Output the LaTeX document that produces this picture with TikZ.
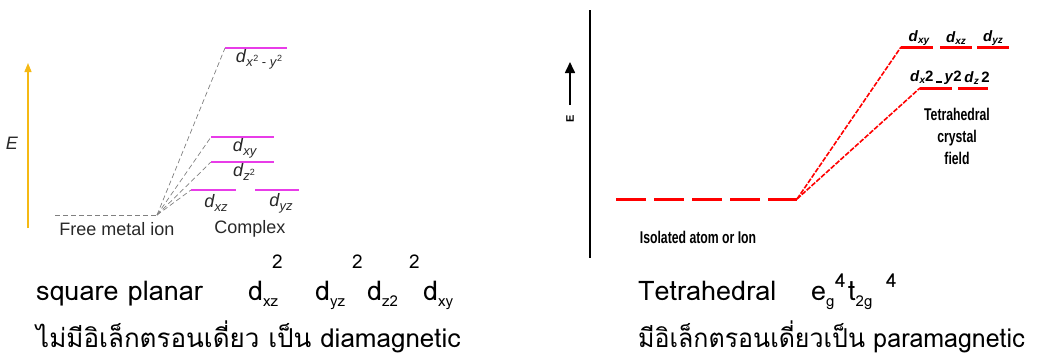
\documentclass[tikz,border=0pt]{standalone}
\usepackage{fontspec}
\setmainfont{Liberation Sans}
\newfontfamily\thaifont[Script=Thai]{Loma}
\usetikzlibrary{arrows.meta}
\definecolor{lvlmag}{RGB}{232,60,232}
\definecolor{ayellow}{RGB}{245,185,20}
\definecolor{dgray}{RGB}{40,40,40}
\newcommand\ldsub[1]{\textit{d}\raisebox{-4pt}{\fontsize{13}{13}\selectfont\textit{#1}}}
\newcommand\rdsub[1]{\textbf{\textit{d}}\raisebox{-2pt}{\fontsize{10}{10}\selectfont\bfseries\itshape #1}}
\newcommand\bsub[2]{#1\raisebox{-6pt}{\fontsize{15}{15}\selectfont #2}}
\begin{document}
\begin{tikzpicture}[x=1pt,y=-1pt,
  level/.style={lvlmag,line width=1.2pt},
  gdash/.style={gray,dash pattern=on 5pt off 3pt,line width=0.7pt},
  ltxt/.style={font=\fontsize{18}{20}\selectfont,text=dgray,inner sep=0pt},
  rlevel/.style={red,line width=3pt},
  rconn/.style={red,line width=1.6pt,dash pattern=on 5pt off 1.5pt},
  rtxt/.style={font=\fontsize{17}{19}\selectfont\bfseries,xscale=0.72,inner sep=0pt,align=center},
  rlab/.style={font=\fontsize{15}{15}\selectfont,inner sep=0pt},
  btxt/.style={font=\thaifont\fontsize{27}{30}\selectfont,anchor=base west,inner sep=0pt},
  bsupt/.style={font=\thaifont\fontsize{19}{19}\selectfont,anchor=base west,inner sep=0pt},
  thtxt/.style={font=\thaifont\fontsize{26}{30}\selectfont,anchor=base west,inner sep=0pt}]
\useasboundingbox (0,0) rectangle (1053,362);

% ---------- left diagram ----------
\coordinate (ya) at (28,228);
\coordinate (yb) at (28,63);
\draw[ayellow,line width=1.3pt,-{Triangle[length=9pt,width=7pt]}] (ya) -- (yb);
\node[ltxt,font=\fontsize{18}{20}\selectfont\itshape] (E) at (12,143) {E};

\coordinate (fa) at (55,215);
\coordinate (fb) at (157,215);
\draw[gdash] (fa) -- (fb);

\coordinate (l1a) at (225,48);  \coordinate (l1b) at (287,48);
\coordinate (l2a) at (211,137); \coordinate (l2b) at (274,137);
\coordinate (l3a) at (211,162); \coordinate (l3b) at (274,162);
\coordinate (l4a) at (191,190); \coordinate (l4b) at (236,190);
\coordinate (l5a) at (255,190); \coordinate (l5b) at (299,190);
\foreach \l in {1,...,5}{\draw[level] (l\l a) -- (l\l b);}
\foreach \l in {1,...,4}{\draw[gdash] (fb) -- (l\l a);}

\node[ltxt] (d1) at (259,59) {\textit{d}\raisebox{-4pt}{\fontsize{13}{13}\selectfont\textit{x}\raisebox{5pt}{\fontsize{9}{9}\selectfont 2} - \textit{y}\raisebox{5pt}{\fontsize{9}{9}\selectfont 2}}};
\node[ltxt] (d2) at (245,148) {\ldsub{xy}};
\node[ltxt] (d3) at (244,172) {\textit{d}\raisebox{-4pt}{\fontsize{13}{13}\selectfont\textit{z}\raisebox{5pt}{\fontsize{9}{9}\selectfont 2}}};
\node[ltxt] (d4) at (216,203) {\ldsub{xz}};
\node[ltxt] (d5) at (281,203) {\ldsub{yz}};
\node[ltxt] (free) at (117,229) {Free metal ion};
\node[ltxt] (cplx) at (250,229) {Complex};

% ---------- right diagram ----------
\coordinate (va) at (590,10);
\coordinate (vb) at (590,258);
\draw[black,line width=2pt] (va) -- (vb);
\coordinate (ea) at (570,105);
\coordinate (eb) at (570,62);
\draw[black,line width=1.6pt,-{Triangle[length=11pt,width=10pt]}] (ea) -- (eb);
\node[rotate=90,font=\fontsize{11}{11}\selectfont\bfseries,inner sep=0pt] (E2) at (570,119) {E};

\coordinate (ra) at (616,199);
\coordinate (rb) at (797,199);
\draw[red,line width=3pt,dash pattern=on 30pt off 8pt] (ra) -- (rb);

\coordinate (u1a) at (901,47); \coordinate (u1b) at (933,47);
\coordinate (u2a) at (940,47); \coordinate (u2b) at (972,47);
\coordinate (u3a) at (977,47); \coordinate (u3b) at (1009,47);
\coordinate (w1a) at (920,88); \coordinate (w1b) at (952,88);
\coordinate (w2a) at (958,88); \coordinate (w2b) at (988,88);
\foreach \c in {u1,u2,u3,w1,w2}{\draw[rlevel] (\c a) -- (\c b);}
\draw[rconn] (rb) -- (u1a);
\draw[rconn] (rb) -- (w1a);

\node[rlab] (rd1) at (919,38) {\rdsub{xy}};
\node[rlab] (rd2) at (956,38) {\rdsub{xz}};
\node[rlab] (rd3) at (993,38) {\rdsub{yz}};
\node[rlab] (rd4) at (936,78) {\textbf{\textit{d}}\raisebox{-2pt}{\fontsize{10}{10}\selectfont\bfseries\itshape x}\textbf{2\,\raisebox{-1pt}{\rule{6pt}{1.4pt}}\,\textit{y}2}};
\node[rlab] (rd5) at (977,78) {\textbf{\textit{d}}\raisebox{-2pt}{\fontsize{10}{10}\selectfont\bfseries\itshape z}\textbf{\,2}};

\node[rtxt] (tcf) at (957,136) {Tetrahedral\\[3pt]crystal\\[3pt]field};
\node[rtxt] (iso) at (698,237) {Isolated atom or Ion};

% ---------- bottom texts ----------
\node[btxt] (sp) at (36,300) {square planar};
\node[btxt] (sp1) at (248,300) {\bsub{d}{xz}};
\node[bsupt] (sp1s) at (272,268) {2};
\node[btxt] (sp2) at (315,300) {\bsub{d}{yz}};
\node[bsupt] (sp2s) at (352,268) {2};
\node[btxt] (sp3) at (367,300) {\bsub{d}{z2}};
\node[bsupt] (sp3s) at (409,268) {2};
\node[btxt] (sp4) at (423,300) {\bsub{d}{xy}};
\node[thtxt] (th1) at (36,347) {ไม่มีอิเล็กตรอนเดี่ยว เป็น diamagnetic};

\node[btxt] (td) at (638,300) {Tetrahedral};
\node[btxt] (td1) at (811,300) {\bsub{e}{g}};
\node[bsupt] (td1s) at (835,287) {4};
\node[btxt] (td2) at (848,300) {\bsub{t}{2g}};
\node[bsupt] (td2s) at (886,287) {4};
\node[thtxt,xscale=0.96] (th2) at (638,347) {มีอิเล็กตรอนเดี่ยวเป็น paramagnetic};
\end{tikzpicture}
\end{document}
